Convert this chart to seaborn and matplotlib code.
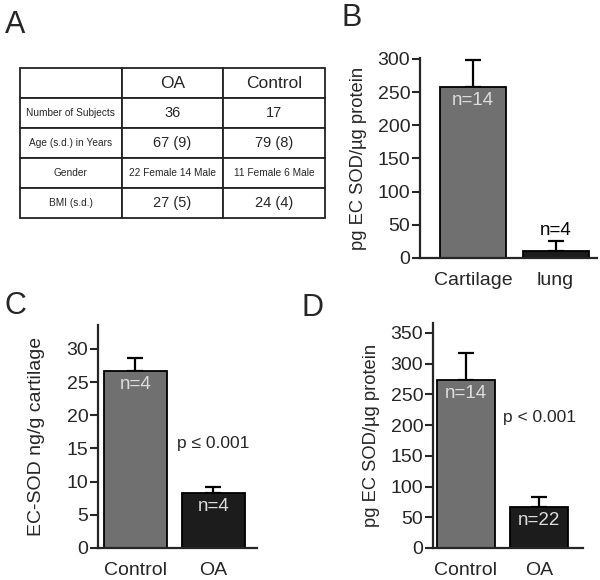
import matplotlib
matplotlib.use('Agg')
import matplotlib.pyplot as plt
import seaborn as sns

# Panel A table
table_cols = ['', 'OA', 'Control']
table_rows = ['Number of Subjects', 'Age (s.d.) in Years', 'Gender', 'BMI (s.d.)']
table_oa = ['36', '67 (9)', '22 Female 14 Male', '27 (5)']
table_ctrl = ['17', '79 (8)', '11 Female 6 Male', '24 (4)']

# Panel B
b_cats = ['Cartilage', 'lung']
b_vals = [258, 11]
b_err = [40, 15]
b_n = ['n=14', 'n=4']

# Panel C
c_cats = ['Control', 'OA']
c_vals = [26.7, 8.3]
c_err = [1.9, 0.9]
c_n = ['n=4', 'n=4']

# Panel D
d_cats = ['Control', 'OA']
d_vals = [274, 67]
d_err = [43, 16]
d_n = ['n=14', 'n=22']

GRAY = '#707070'
DARK = '#1c1c1c'

sns.set_style('ticks')
plt.rcParams['font.family'] = ['Liberation Sans', 'DejaVu Sans']

W, H = 600, 580
fig = plt.figure(figsize=(6, 5.8), dpi=100)


def px_axes(x0, y0, x1, y1):
    # pixel box (top-left origin) -> figure axes
    return fig.add_axes([x0 / W, 1 - y1 / H, (x1 - x0) / W, (y1 - y0) / H])


def bar_panel(ax, cats, vals, errs, labels, ylim, xlim, ticks, ylabel, ysize, ylab_x, n_inside):
    sns.barplot(x=cats, y=vals, hue=cats, palette=[GRAY, DARK], legend=False,
                edgecolor='black', linewidth=1.3, width=0.8, ax=ax, zorder=2)
    ax.errorbar(range(len(cats)), vals, yerr=[[0] * len(vals), errs], fmt='none',
                ecolor='black', elinewidth=1.6, capsize=5.5, capthick=1.6, zorder=1)
    for i, (v, lab) in enumerate(zip(vals, labels)):
        if n_inside[i]:
            ax.annotate(lab, (i, v), xytext=(0, -14), textcoords='offset pixels',
                        ha='center', va='center', color='#dddddd', fontsize=13.5, zorder=3)
        else:
            ax.annotate(lab, (i, v + errs[i]), xytext=(0, 2), textcoords='offset pixels',
                        ha='center', va='bottom', color='black', fontsize=13.5)
    ax.set_ylim(*ylim)
    ax.set_xlim(*xlim)
    ax.set_yticks(ticks)
    ax.set_ylabel(ylabel, fontsize=ysize, va='center')
    ax.yaxis.set_label_coords(ylab_x, 0.5)
    for s in ['top', 'right']:
        ax.spines[s].set_visible(False)
    for s in ['left', 'bottom']:
        ax.spines[s].set_linewidth(1.6)
    ax.tick_params(axis='y', length=6, width=1.5, pad=1, labelsize=14)
    ax.tick_params(axis='x', length=0, pad=10, labelsize=14)


# A: table
axA = px_axes(20, 68, 325, 218)
axA.axis('off')
cells = [table_cols] + [[r, o, c] for r, o, c in zip(table_rows, table_oa, table_ctrl)]
tbl = axA.table(cellText=cells, cellLoc='center', bbox=[0, 0, 1, 1])
tbl.auto_set_font_size(False)
for (r, c), cell in tbl.get_celld().items():
    cell.set_linewidth(1.3)
    cell.set_edgecolor('#222222')
    if r == 0:
        cell.get_text().set_fontsize(12.5)
    elif c == 0 or table_rows[r - 1] == 'Gender':
        cell.get_text().set_fontsize(7.3)
    else:
        cell.get_text().set_fontsize(10.5)

# B
axB = px_axes(420, 58, 597, 258)
bar_panel(axB, b_cats, b_vals, b_err, b_n, (0, 301.5), (-0.64, 1.5),
          [0, 50, 100, 150, 200, 250, 300], 'pg EC SOD/µg protein', 13.2,
          (358 - 420) / 177, [True, False])

# C
axC = px_axes(98, 325, 257, 548)
bar_panel(axC, c_cats, c_vals, c_err, c_n, (0, 33.6), (-0.48, 1.56),
          [0, 5, 10, 15, 20, 25, 30], 'EC-SOD ng/g cartilage', 14,
          (37 - 98) / 159, [True, True])
axC.text(1.0, 15.8, 'p ≤ 0.001', fontsize=12.5, ha='center', va='center')

# D
axD = px_axes(433, 323, 583, 548)
bar_panel(axD, d_cats, d_vals, d_err, d_n, (0, 366), (-0.45, 1.6),
          [0, 50, 100, 150, 200, 250, 300, 350], 'pg EC SOD/µg protein', 13.2,
          (372 - 433) / 150, [True, True])
axD.text(1.0, 213, 'p < 0.001', fontsize=12.5, ha='center', va='center')

for lab, (x, y) in zip('ABCD', [(5, 33), (342, 26), (5, 314), (302, 316)]):
    fig.text(x / W, 1 - y / H, lab, fontsize=22, ha='left', va='baseline')

fig.savefig('out.png', dpi=100)
